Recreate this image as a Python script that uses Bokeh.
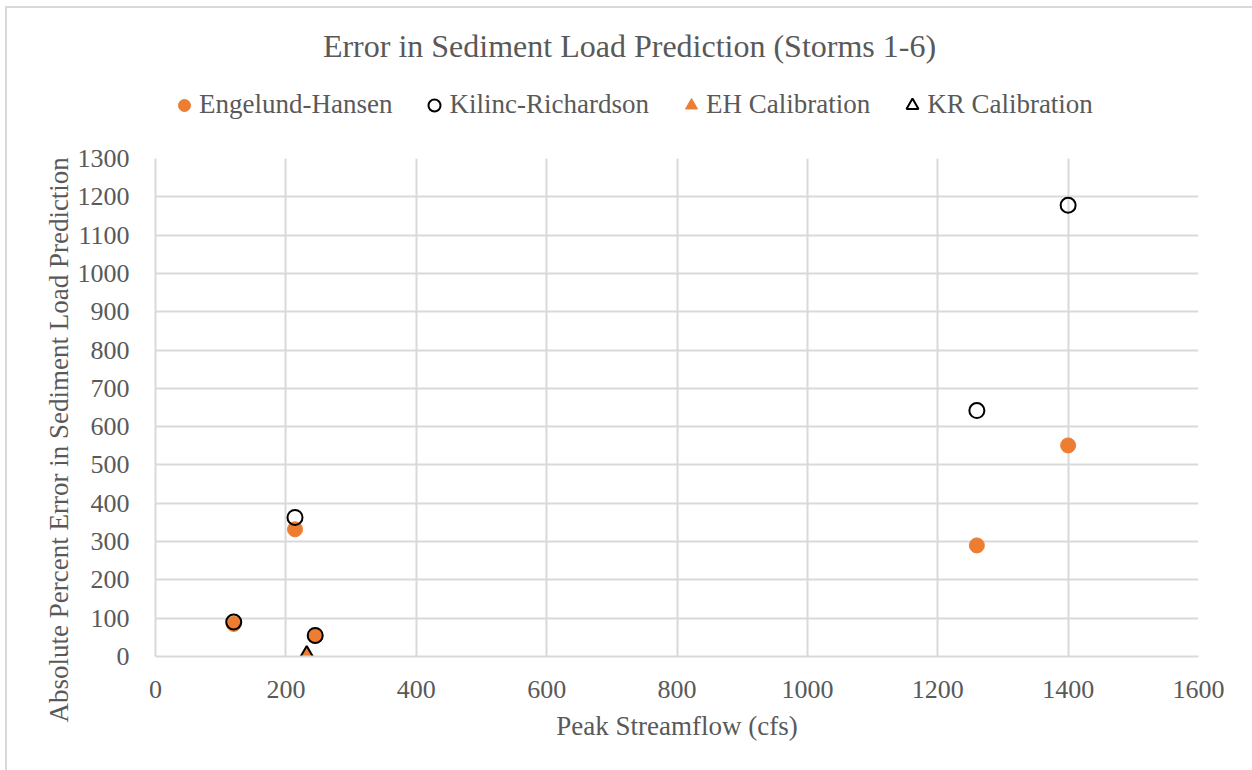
from bokeh.plotting import figure
from bokeh.layouts import column
from bokeh.models import Legend, LegendItem, Label, FixedTicker, Title
from bokeh.embed import file_html
from bokeh.resources import INLINE

# Data
eh_x = [120, 214, 245, 1260, 1400]
eh_y = [85, 332, 53, 290, 551]
kr_x = [120, 214, 245, 1260, 1400]
kr_y = [90, 363, 55, 642, 1178]
ehcal_x = [232]
ehcal_y = [2]
krcal_x = [232]
krcal_y = [2]

series_names = ["Engelund-Hansen", "Kilinc-Richardson", "EH Calibration", "KR Calibration"]
x_ticks = [0, 200, 400, 600, 800, 1000, 1200, 1400, 1600]
y_ticks = list(range(0, 1301, 100))

FONT = "Liberation Serif"
GRAY = "#595959"
ORANGE = "#ED7D31"
GRID = "#D9D9D9"

OFFX, OFFY = 7, 8
W = 1252 - OFFX
TOP_H = 132
MAIN_H = 770 - OFFY - TOP_H
FRAME_LEFT = 155  # page x of the plot frame (header frame aligns with it)

styles_list = [
    dict(marker="circle", fill_color=ORANGE, line_color=ORANGE),
    dict(marker="circle", fill_color=None, line_color="black", line_width=2),
    dict(marker="triangle", fill_color=ORANGE, line_color=ORANGE),
    dict(marker="triangle", fill_color=None, line_color="black", line_width=2),
]
series_xy = [(eh_x, eh_y), (kr_x, kr_y), (ehcal_x, ehcal_y), (krcal_x, krcal_y)]

# ---------- header figure: title + legend ----------
top = figure(width=W, height=TOP_H, output_backend="svg", toolbar_location=None,
             x_axis_type=None, y_axis_type=None, x_range=(0, 1), y_range=(0, 1),
             min_border=0)
top.outline_line_color = None
top.xgrid.visible = False
top.ygrid.visible = False

# same series drawn here only to feed the legend (they lie outside this header's ranges)
legend_renderers = [top.scatter(x, y, size=12, **st) for (x, y), st in zip(series_xy, styles_list)]

legend = Legend(items=[LegendItem(label=n, renderers=[r]) for n, r in zip(series_names, legend_renderers)],
                orientation="horizontal", location=(169 - FRAME_LEFT, TOP_H - (105 - OFFY) - 15))
legend.label_text_font = FONT
legend.label_text_font_size = "27px"
legend.label_text_color = GRAY
legend.border_line_color = None
legend.background_fill_alpha = 0
legend.spacing = 27
legend.glyph_width = 30
legend.glyph_height = 30
legend.label_standoff = 0
legend.label_height = 30
legend.margin = 0
legend.padding = 0
top.add_layout(legend, "center")

title = Label(x=629 - FRAME_LEFT, y=TOP_H - (45 - OFFY), x_units="screen", y_units="screen",
              text="Error in Sediment Load Prediction (Storms 1-6)",
              text_align="center", text_baseline="middle",
              text_font=FONT, text_font_size="32px", text_color=GRAY)
top.add_layout(title)

# ---------- main figure ----------
p = figure(width=W, height=MAIN_H, output_backend="svg", toolbar_location=None,
           x_range=(0, 1600), y_range=(0, 1300),
           min_border_left=FRAME_LEFT - OFFX, min_border_right=1252 - 1198,
           min_border_top=158 - OFFY - TOP_H, min_border_bottom=770 - 656)

p.xaxis.ticker = FixedTicker(ticks=x_ticks)
p.yaxis.ticker = FixedTicker(ticks=y_ticks)
for ax in (p.xaxis[0], p.yaxis[0]):
    ax.major_label_text_font = FONT
    ax.major_label_text_font_size = "26px"
    ax.major_label_text_color = GRAY
    ax.axis_line_color = GRID
    ax.axis_line_width = 2
    ax.major_tick_line_color = None
    ax.minor_tick_line_color = None
    ax.axis_label_text_font = FONT
    ax.axis_label_text_font_size = "27px"
    ax.axis_label_text_color = GRAY
    ax.axis_label_text_font_style = "normal"
p.xaxis.axis_label = "Peak Streamflow (cfs)"
p.xaxis.major_label_standoff = 18
p.xaxis.axis_label_standoff = 10
p.yaxis.major_label_standoff = 20

p.xgrid.grid_line_color = GRID
p.ygrid.grid_line_color = GRID
p.xgrid.grid_line_width = 2
p.ygrid.grid_line_width = 2
p.outline_line_color = None

sizes = [15, 15, 17, 17]
for (x, y), st, s in zip(series_xy, styles_list, sizes):
    p.scatter(x, y, size=s, **st)

ytitle = Title(text="Absolute Percent Error in Sediment Load Prediction", align="left",
               text_font=FONT, text_font_size="27px", text_color=GRAY,
               text_font_style="normal", offset=-66, standoff=2)
p.add_layout(ytitle, "left")

layout = column(top, p, spacing=0,
                styles={"border-top": "2px solid #D9D9D9", "border-left": "2px solid #D9D9D9",
                        "margin-left": "5px", "margin-top": "6px"})

open("out.html", "w").write(file_html(layout, INLINE))
